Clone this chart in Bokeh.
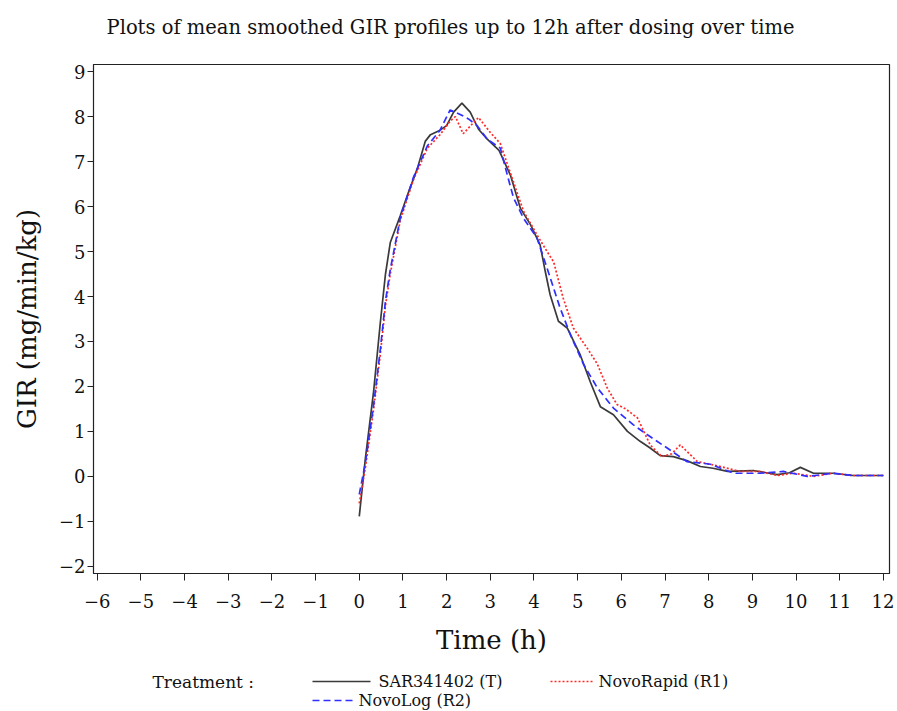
from bokeh.plotting import figure
from bokeh.layouts import column
from bokeh.models import Range1d, FixedTicker
from bokeh.core.properties import value
from bokeh.embed import file_html
from bokeh.resources import INLINE

# ---- data ----
sar_t = [0, 0.14, 0.33, 0.48, 0.6, 0.71, 0.94, 1.12, 1.33, 1.51, 1.63, 1.85, 2.0, 2.16, 2.35,
         2.54, 2.73, 2.93, 3.2, 3.46, 3.69, 3.92, 4.14, 4.26, 4.37, 4.56, 4.76, 5.06, 5.29,
         5.52, 5.82, 6.14, 6.43, 6.66, 6.89, 7.19, 7.5, 7.81, 8.1, 8.43, 9.02, 9.57, 9.85,
         10.1, 10.4, 10.85, 11.3, 12]
sar_v = [-0.89, 0.4, 1.9, 3.4, 4.5, 5.2, 5.8, 6.3, 6.85, 7.45, 7.6, 7.7, 7.8, 8.1, 8.3,
         8.1, 7.72, 7.5, 7.25, 6.7, 5.96, 5.6, 5.15, 4.55, 4.04, 3.45, 3.3, 2.7, 2.1,
         1.55, 1.37, 1.0, 0.78, 0.63, 0.46, 0.44, 0.35, 0.22, 0.18, 0.11, 0.13, 0.04, 0.08,
         0.2, 0.07, 0.07, 0.02, 0.02]

rapid_t = [0, 0.14, 0.33, 0.48, 0.6, 0.71, 0.94, 1.24, 1.56, 1.85, 2.08, 2.2, 2.38, 2.55,
           2.73, 3.0, 3.23, 3.53, 3.76, 4.07, 4.3, 4.45, 4.67, 4.9, 5.22, 5.45, 5.68, 5.9,
           6.1, 6.37, 6.66, 6.93, 7.15, 7.35, 7.74, 8.27, 8.72, 9.18, 9.57, 9.94, 10.4,
           10.85, 11.3, 12]
rapid_v = [-0.6, 0.2, 1.5, 2.7, 3.8, 4.5, 5.7, 6.6, 7.3, 7.6, 7.9, 8.0, 7.62, 7.8,
           7.98, 7.65, 7.4, 6.55, 5.9, 5.37, 5.0, 4.77, 3.96, 3.3, 2.85, 2.5, 1.96, 1.6,
           1.5, 1.3, 0.7, 0.44, 0.5, 0.7, 0.33, 0.22, 0.11, 0.11, 0.02, 0.07, 0.0,
           0.07, 0.02, 0.02]

log_t = [0, 0.14, 0.33, 0.48, 0.6, 0.71, 0.94, 1.24, 1.56, 1.85, 2.08, 2.31, 2.5, 2.7,
         2.93, 3.23, 3.39, 3.53, 3.76, 4.07, 4.3, 4.6, 4.83, 5.13, 5.45, 5.82, 6.27, 6.59,
         7.05, 7.5, 8.04, 8.57, 9.18, 9.71, 10.26, 10.85, 11.3, 12]
log_v = [-0.4, 0.3, 1.6, 2.8, 3.9, 4.6, 5.75, 6.65, 7.35, 7.7, 8.15, 8.05, 7.95, 7.8,
         7.5, 7.3, 6.7, 6.2, 5.74, 5.3, 4.63, 3.74, 3.16, 2.5, 1.97, 1.52, 1.15, 0.93,
         0.63, 0.33, 0.27, 0.07, 0.07, 0.11, 0.0, 0.07, 0.02, 0.02]

x_ticks = list(range(-6, 13))
y_ticks = list(range(-2, 10))
x_tick_labels = {t: (str(t).replace("-", "\u2212")) for t in x_ticks}
y_tick_labels = {t: (str(t).replace("-", "\u2212")) for t in y_ticks}

series_names = ["SAR341402 (T)", "NovoRapid (R1)", "NovoLog (R2)"]
series_colors = ["#3a3a3a", "#ff2a2a", "#2f2fff"]
series_dash = ["solid", "2 2", "7 4"]
legend_heading = "Treatment :"
title_text = "Plots of mean smoothed GIR profiles up to 12h after dosing over time"

FONT = "DejaVu Serif"
W = 894
BORDER_L, BORDER_R = 93, 5
TITLE_H, MAIN_H, LEG_H = 40, 625, 46

# legend strip layout (page pixel positions), one entry per series
LEG_SAMPLE = [(312, 370, 16), (550, 592, 16), (312, 352, 35)]
LEG_TEXT_X = [378, 598, 358]
LEG_HEAD_POS = (152, 16)


def strip(height):
    # the column layout aligns this strip's frame with the main plot's frame,
    # so its x range is expressed in page pixels over that frame
    f = figure(width=W, height=height, output_backend="svg", toolbar_location=None,
               title=None, x_axis_location=None, y_axis_location=None,
               x_range=Range1d(BORDER_L, W - BORDER_R), y_range=Range1d(height, 0),
               min_border_left=BORDER_L, min_border_right=BORDER_R, min_border_top=0,
               min_border_bottom=0)
    f.xgrid.visible = False
    f.ygrid.visible = False
    f.outline_line_color = None
    f.background_fill_color = "white"
    f.border_fill_color = "white"
    return f


# ---- title strip ----
tt = strip(TITLE_H)
tt.text(x=[450], y=[27], text=[title_text], text_align="center",
        text_baseline="middle", text_font=value(FONT), text_font_size=value("19.5px"),
        text_color="#111111")

# ---- main plot ----
p = figure(width=W, height=MAIN_H, output_backend="svg", toolbar_location=None,
           title=None,
           x_range=Range1d(-6.085, 12.14), y_range=Range1d(-2.16, 9.16),
           min_border_left=BORDER_L, min_border_right=BORDER_R, min_border_top=24,
           min_border_bottom=92)

p.xgrid.visible = False
p.ygrid.visible = False
p.outline_line_color = "#222222"
p.outline_line_width = 1.2
p.background_fill_color = "white"
p.border_fill_color = "white"

for ax in (p.xaxis[0], p.yaxis[0]):
    ax.axis_line_color = "#222222"
    ax.major_tick_line_color = "#222222"
    ax.minor_tick_line_color = None
    ax.major_tick_in = 0
    ax.major_label_text_font = FONT
    ax.major_label_text_font_size = "18px"
    ax.major_label_text_color = "#111111"
    ax.axis_label_text_font = FONT
    ax.axis_label_text_font_size = "26px"
    ax.axis_label_text_font_style = "normal"
    ax.axis_label_text_color = "#111111"

p.xaxis.ticker = FixedTicker(ticks=x_ticks)
p.yaxis.ticker = FixedTicker(ticks=y_ticks)
p.xaxis.major_label_overrides = x_tick_labels
p.yaxis.major_label_overrides = y_tick_labels
p.xaxis.major_tick_out = 7
p.yaxis.major_tick_out = 6
p.xaxis.major_label_standoff = 13
p.yaxis.major_label_standoff = 2
p.xaxis.axis_label = "Time (h)"
p.yaxis.axis_label = "GIR (mg/min/kg)"
p.xaxis.axis_label_standoff = 14
p.yaxis.axis_label_standoff = 14

p.line(sar_t, sar_v, line_color=series_colors[0], line_width=1.7, line_dash=series_dash[0])
p.line(rapid_t, rapid_v, line_color=series_colors[1], line_width=1.7, line_dash=series_dash[1])
p.line(log_t, log_v, line_color=series_colors[2], line_width=1.7, line_dash=series_dash[2])

# ---- legend strip ----
lg = strip(LEG_H)
lg.text(x=[LEG_HEAD_POS[0]], y=[LEG_HEAD_POS[1]], text=[legend_heading],
        text_baseline="middle", text_font=value(FONT), text_font_size=value("17px"),
        text_color="#111111")
for (x0, x1, yy), tx, name, c, d in zip(LEG_SAMPLE, LEG_TEXT_X, series_names,
                                        series_colors, series_dash):
    lg.line(x=[x0, x1], y=[yy, yy], line_color=c, line_width=1.7, line_dash=d)
    lg.text(x=[tx], y=[yy], text=[name], text_baseline="middle",
            text_font=value(FONT), text_font_size=value("16px"), text_color="#111111")

layout = column(tt, p, lg, spacing=0)
open("out.html", "w").write(file_html(layout, INLINE))
